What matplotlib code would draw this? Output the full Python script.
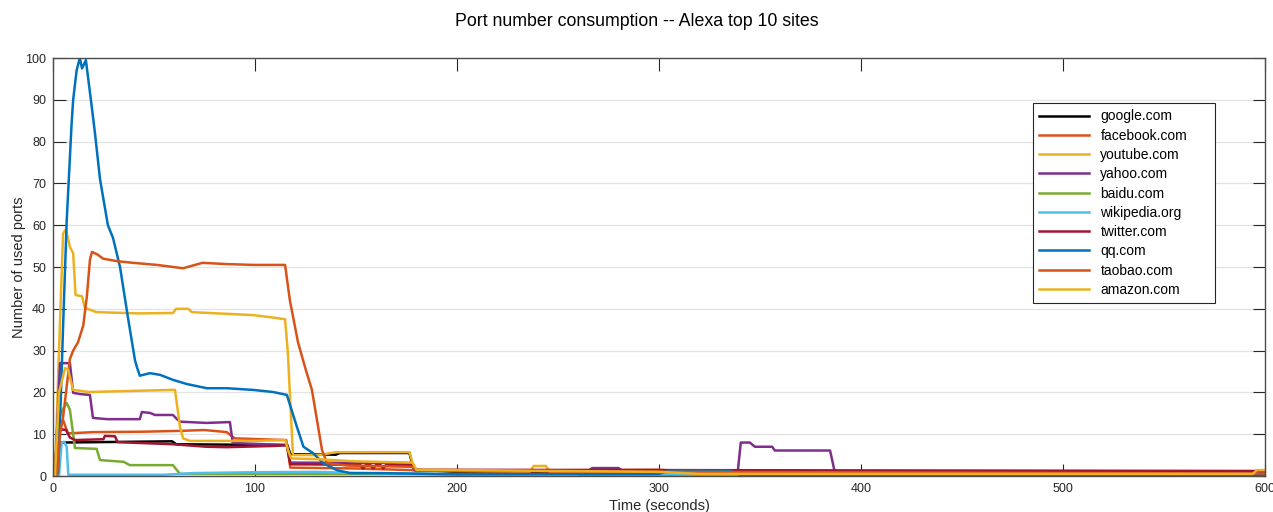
import numpy as np
import matplotlib
matplotlib.use("Agg")
import matplotlib.pyplot as plt

plt.rcParams['font.family'] = ['Liberation Sans', 'DejaVu Sans']

# sites and their colours (MATLAB default order)
sites = ['google.com', 'facebook.com', 'youtube.com', 'yahoo.com', 'baidu.com',
         'wikipedia.org', 'twitter.com', 'qq.com', 'taobao.com', 'amazon.com']
colors = ['#000000', '#D95319', '#EDB120', '#7E2F8E', '#77AC30',
          '#4DBEEE', '#A2142F', '#0072BD', '#D95319', '#EDB120']

# time (s) / used ports
google_t = [0, 2, 3.5, 59, 61, 116, 117.5, 140, 142, 176.5, 178.5, 200, 260, 262, 600]
google_y = [0, 0, 8, 8.3, 7.6, 7.4, 5.2, 5.1, 5.5, 5.5, 1.5, 1, 0.5, 0.1, 0.1]

facebook_t = [0, 3, 5, 7.4, 20, 45, 63, 75, 86, 90, 115.5, 117.5, 150, 178, 180, 300, 320, 600]
facebook_y = [0, 11, 13.4, 10.2, 10.5, 10.6, 10.8, 11, 10.5, 9, 8.6, 2, 1.8, 1.4, 1.2, 1.5, 0.8, 0.8]

youtube_t = [0, 1, 3, 5, 6.4, 8.4, 10, 11.2, 14.4, 15.8, 21.6, 43, 59.4, 61, 67, 68.8, 86, 99,
             107.4, 114.9, 116.3, 118.8, 132, 140, 176.5, 179, 200, 236, 238, 244, 246, 300, 320, 600]
youtube_y = [0, 0, 30, 58, 59, 54.8, 53.3, 43.3, 43, 40.2, 39.2, 38.9, 39, 40, 40, 39.2, 38.8, 38.5,
             38, 37.5, 29.4, 5, 5, 5.7, 5.7, 1.4, 1.2, 1, 2.4, 2.4, 1, 0.8, 0.6, 0.6]

yahoo_t = [0, 1, 3.5, 8.4, 10, 13.4, 18.3, 19.8, 26.7, 43, 44, 48, 50.5, 59.4, 61.4, 62.9, 76, 87.6,
           89, 115.8, 117.5, 177, 179, 200, 265, 267, 280, 282, 339, 340.5, 345, 347.5, 356, 357.4,
           384.7, 387, 600]
yahoo_y = [0, 0, 27, 27, 19.9, 19.6, 19.4, 13.9, 13.6, 13.6, 15.3, 15.1, 14.6, 14.6, 13.6, 13, 12.7, 12.9,
           7.9, 7.4, 3.2, 3.1, 1.4, 1.2, 1.2, 1.9, 1.9, 1.2, 1, 8, 8, 7, 7, 6.1,
           6.1, 1, 1]

baidu_t = [0, 1, 2.5, 5, 6.8, 8.4, 10.9, 21.6, 23.3, 35, 38, 59.4, 62.9, 600]
baidu_y = [0, 0, 13.4, 16, 17.5, 15.8, 6.7, 6.5, 3.8, 3.4, 2.6, 2.6, 0.5, 0.3]

wikipedia_t = [0, 3, 4.3, 5.5, 6.8, 7.6, 55, 70, 100, 130, 150, 200, 600]
wikipedia_y = [0, 0, 8, 8.2, 7, 0.3, 0.3, 0.7, 0.9, 1, 0.7, 0.4, 0.2]

twitter_t = [0, 1, 3.5, 6.5, 8.4, 11, 25, 25.7, 30.7, 32, 43, 59.4, 76, 86, 110, 115.8, 117.5,
             152, 153.5, 155, 157, 158.5, 160, 162, 163.5, 165, 178, 180, 600]
twitter_y = [0, 0, 11.2, 11, 9.2, 8.6, 8.8, 9.6, 9.5, 8.1, 7.9, 7.6, 7, 6.9, 7.2, 7.4, 2.8,
             2.7, 1.8, 2.7, 2.7, 1.8, 2.7, 2.7, 1.8, 2.7, 2.6, 1.5, 1.2]

qq_t = [0, 2.5, 3.5, 5.1, 6.8, 9.2, 10, 11.7, 13.3, 14.4, 16.3, 19.3, 20.8, 23.3, 27.2, 29.7, 32.2,
        33.2, 37.1, 40.6, 41.6, 43, 48, 53, 59.4, 66.3, 76.2, 86.1, 99, 108.9, 115.8, 118, 120.8,
        124, 128.7, 133.7, 140.6, 147, 162, 200, 300, 305, 335, 340, 600]
qq_y = [0, 0.7, 13, 37, 61, 84, 90, 97, 100, 97.5, 99.5, 88, 82, 71, 60, 57, 52,
        50, 38, 27.7, 26, 24, 24.6, 24.2, 23, 22, 21, 21, 20.6, 20.1, 19.4, 16, 11.7,
        7, 5.5, 3.1, 1.4, 0.7, 0.7, 0.4, 0.5, 1.3, 1.3, 0.3, 0.3]

taobao_t = [0, 2, 3.5, 5, 8.4, 10, 12.4, 15, 16.8, 18.3, 19.3, 22, 24.8, 31.7, 39.6, 51.5, 64.4, 74,
            86, 99, 114.9, 117.3, 121.3, 124.8, 128.2, 130.7, 133.2, 135.6, 137, 145.5, 178, 180,
            300, 600]
taobao_y = [0, 0, 10, 14, 28, 30, 32, 36, 43, 51.7, 53.6, 53, 52, 51.4, 51, 50.5, 49.7, 51,
            50.7, 50.5, 50.5, 42, 32, 26, 20.6, 13.4, 6.2, 3.1, 3, 2.5, 2.2, 1.3,
            1, 0.6]

amazon_t = [0, 1, 3, 6, 7.5, 10, 18, 43, 59.4, 60.4, 62.9, 64.4, 67.8, 100, 115, 116.5, 118, 132,
            150, 178, 180, 300, 320, 594, 596, 600]
amazon_y = [0, 0, 20, 25.8, 25.4, 20.6, 20.1, 20.4, 20.6, 20.6, 11.7, 9, 8.4, 8.4, 8.6, 6, 4.2, 4,
            3.5, 3.2, 1.5, 1.0, 0.5, 0.5, 1.4, 1.4]

series = [(google_t, google_y), (facebook_t, facebook_y), (youtube_t, youtube_y),
          (yahoo_t, yahoo_y), (baidu_t, baidu_y), (wikipedia_t, wikipedia_y),
          (twitter_t, twitter_y), (qq_t, qq_y), (taobao_t, taobao_y), (amazon_t, amazon_y)]

fig = plt.figure(figsize=(12.73, 5.12), dpi=100)
ax = fig.add_axes([0.0416, 0.0703, 0.9521, 0.8164])

for (t, y), name, c in zip(series, sites, colors):
    ax.plot(t, y, color=c, linewidth=1.8, label=name)

ax.set_xlim(0, 600)
ax.set_ylim(0, 100)
ax.set_xticks(np.arange(0, 601, 100))
ax.set_yticks(np.arange(0, 101, 10))
ax.yaxis.grid(True, color='#e3e3e3', linewidth=0.9)
ax.set_axisbelow(True)
ax.tick_params(direction='in', top=True, right=True, length=9, width=0.8,
               labelsize=9, colors='#262626', pad=5)
for s in ax.spines.values():
    s.set_color('#4d4d4d')
    s.set_linewidth(1.0)

ax.set_xlabel('Time (seconds)', fontsize=10.5, color='#262626', labelpad=3)
ax.set_ylabel('Number of used ports', fontsize=10.5, color='#262626', labelpad=-1)
fig.suptitle('Port number consumption -- Alexa top 10 sites', fontsize=12.8, y=0.975)

leg = ax.legend(loc='upper left', bbox_to_anchor=(0.8086, 0.416, 0.150, 0.476),
                mode='expand', fontsize=10, handlelength=3.6, labelspacing=0.38,
                fancybox=False, framealpha=1, borderaxespad=0, borderpad=0.45)
leg.get_frame().set_edgecolor('#262626')
leg.get_frame().set_linewidth(0.8)

fig.savefig('out.png', dpi=100)
